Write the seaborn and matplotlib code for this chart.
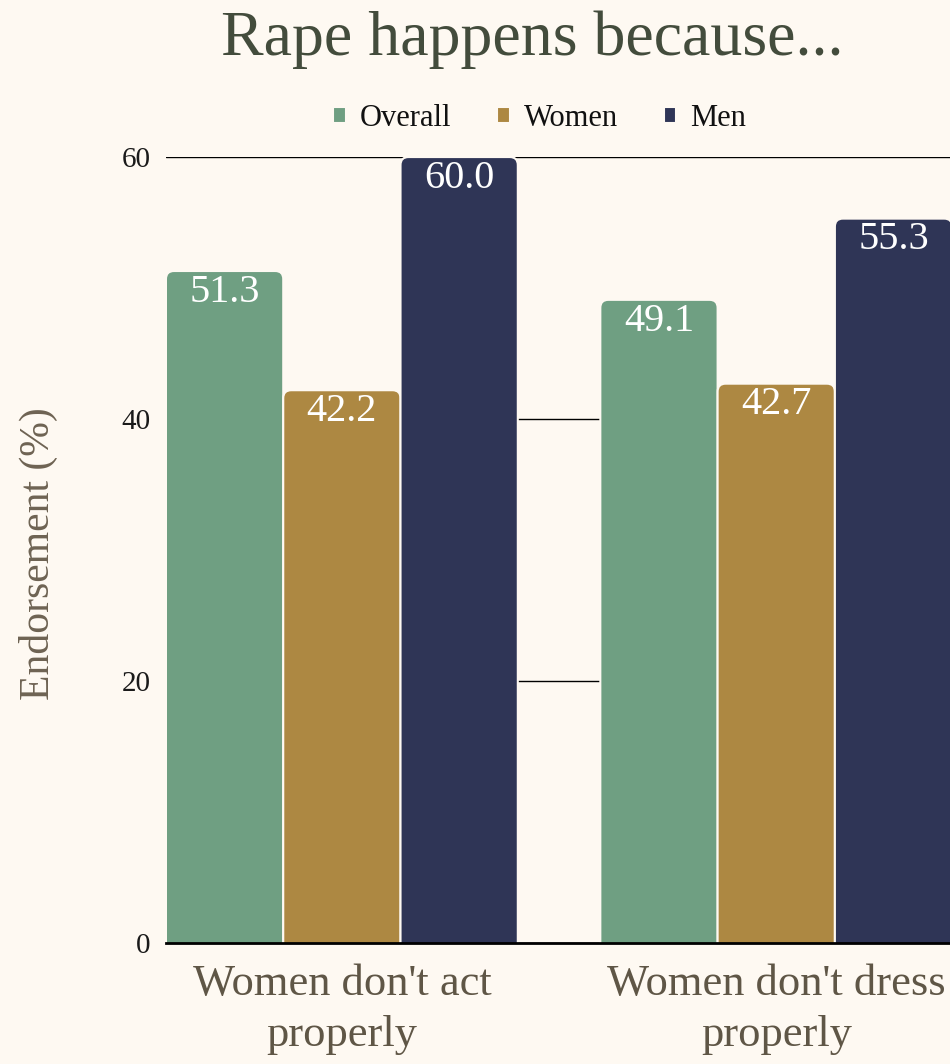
import matplotlib
matplotlib.use("Agg")
import matplotlib.pyplot as plt
from matplotlib.patches import FancyBboxPatch
import seaborn as sns
import pandas as pd

categories = ["Women don't act\nproperly", "Women don't dress\nproperly"]
groups = ["Overall", "Women", "Men"]
overall = [51.3, 49.1]
women = [42.2, 42.7]
men = [60.0, 55.3]
colors = ["#6f9f82", "#ad8842", "#2f3556"]
y_ticks = [0, 20, 40, 60]

bg = "#fef9f2"
rows = []
for i, c in enumerate(categories):
    rows.append((c, "Overall", overall[i]))
    rows.append((c, "Women", women[i]))
    rows.append((c, "Men", men[i]))
df = pd.DataFrame(rows, columns=["cat", "group", "value"])

sns.set_theme(style="white")
plt.rcParams["font.family"] = ["Liberation Serif", "DejaVu Serif"]

fig = plt.figure(figsize=(9.5, 10.64), dpi=100, facecolor=bg)
ax = fig.add_axes([0.1747, 0.1137, 0.8253, 0.7387])
ax.set_facecolor(bg)

sns.barplot(data=df, x="cat", y="value", hue="group", hue_order=groups,
            palette=colors, width=0.81, ax=ax, errorbar=None,
            edgecolor=bg, linewidth=1.5, saturation=1, zorder=3)

ax.set_xlim(-0.405, 1.40)
ax.set_ylim(0, 60)

# rounded tops
px_x = 784 / 1.805
px_y = 786 / 60.0
r = 8 / px_x
aspect = px_x / px_y
rects = [p for p in ax.patches if p.get_height() > 0]
for p in rects:
    x, y, w, h = p.get_x(), p.get_y(), p.get_width(), p.get_height()
    fc = p.get_facecolor()
    p.set_visible(False)
    ext = r * aspect
    fb = FancyBboxPatch((x, y - ext), w, h + ext,
                        boxstyle=f"round,pad=0,rounding_size={r}",
                        mutation_aspect=aspect, facecolor=fc,
                        edgecolor=bg, linewidth=1.5, zorder=3)
    ax.add_patch(fb)
    ax.annotate(f"{h:.1f}", (x + w / 2, h), xytext=(0, -2),
                textcoords="offset points", ha="center", va="top",
                color="white", fontsize=29, zorder=5)

ax.set_yticks(y_ticks)
ax.grid(axis="y", color="black", linewidth=1.0, zorder=0)
ax.set_axisbelow(True)
for s in ["top", "right", "left"]:
    ax.spines[s].set_visible(False)
ax.spines["bottom"].set_color("black")
ax.spines["bottom"].set_linewidth(2)
ax.spines["bottom"].set_zorder(4)

ax.tick_params(axis="y", length=0, pad=11, labelsize=21, labelcolor="#1a1a1a")
ax.tick_params(axis="x", length=0, pad=15, labelsize=32, labelcolor="#5f5646")
for t in ax.get_xticklabels():
    t.set_linespacing(1.35)

ax.set_xlabel("")
ax.set_ylabel("Endorsement (%)", fontsize=30, color="#6e6353")
ax.yaxis.set_label_coords(-0.138, 0.495)

leg = ax.get_legend()
handles = leg.legend_handles
leg.remove()
fig.legend(handles, groups, loc="center", bbox_to_anchor=(0.568, 0.889),
           ncol=3, frameon=False, fontsize=22, handlelength=0.42,
           handleheight=0.42, handletextpad=0.45, columnspacing=1.5,
           labelcolor="#111111")

fig.text(0.56, 1 - 55 / 1064, "Rape happens because...", ha="center",
         va="baseline", fontsize=46, color="#434c3c")

fig.savefig("out.png", dpi=100, facecolor=bg)
